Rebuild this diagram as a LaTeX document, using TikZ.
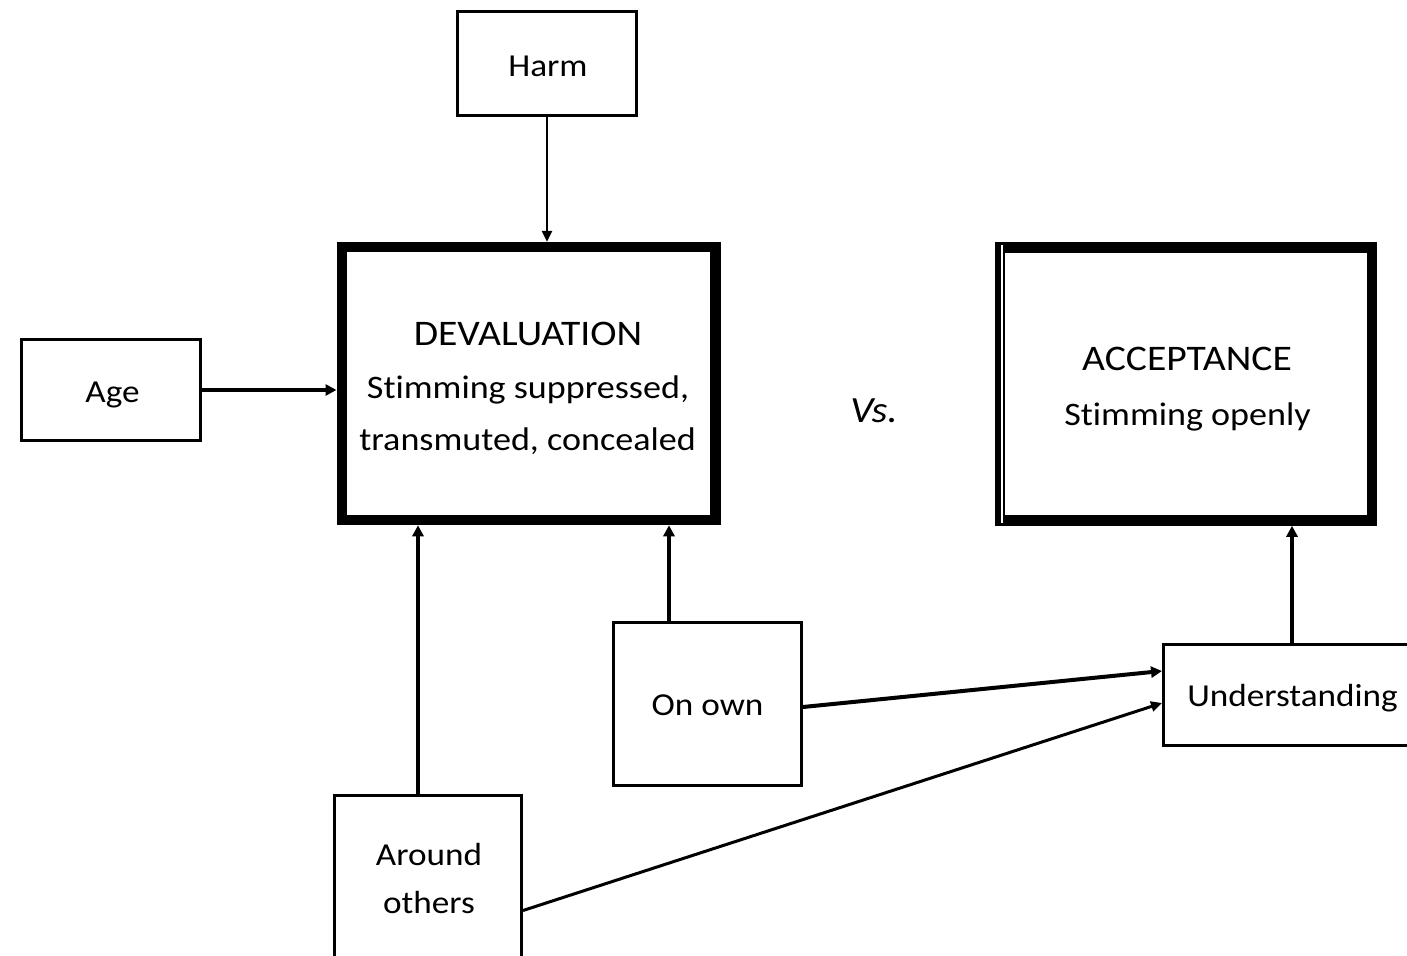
\documentclass[tikz,border=0pt]{standalone}
\usepackage{fontspec}
\setmainfont{Carlito}[Ligatures=NoCommon, FakeStretch=1.1]
\usetikzlibrary{arrows.meta,calc}
\begin{document}
\begin{tikzpicture}[x=1pt,y=-1pt,
  box/.style={draw, line width=3pt, inner sep=0pt},
  bigbox/.style={draw, line width=10.5pt, inner sep=0pt},
  txt/.style={anchor=base, inner sep=0pt, font=\fontsize{32}{40}\selectfont},
  bigtxt/.style={anchor=base, inner sep=0pt, font=\fontsize{32.8}{40}\selectfont},
  titletxt/.style={anchor=base, inner sep=0pt, font=\fontsize{36}{40}\selectfont},
  arr/.style={-{Triangle[length=11pt,width=11pt]}, line width=4pt},
  thinarr/.style={-{Triangle[length=11pt,width=10pt]}, line width=2.5pt}]
\useasboundingbox (0,0) rectangle (1407,955);
\clip (0,0) rectangle (1407,955);
\fill[white] (0,0) rectangle (1407,955);

% boxes
\node[box, minimum width=179pt, minimum height=104pt] (harm) at (547,63.5) {};
\node[box, minimum width=179pt, minimum height=101pt] (age) at (111,390) {};
\node[bigbox, minimum width=373.5pt, minimum height=273pt] (dev) at (528.5,383.5) {};
\node[bigbox, minimum width=372pt, minimum height=273pt] (acc) at (1186,384) {};
\draw[white, line width=1.5pt] ([xshift=7pt,yshift=-3pt]acc.north west) -- ([xshift=7pt,yshift=3pt]acc.south west);
\node[box, minimum width=188pt, minimum height=163pt] (own) at (707.5,704) {};
\node[box, minimum width=187pt, minimum height=170pt] (around) at (428,880.5) {};
\node[box, minimum width=257pt, minimum height=101pt] (und) at (1292,695) {};

% texts
\node[txt] (harmt) at (548,76.7) {Harm};
\node[txt] (aget) at (112.5,402.7) {Age};
\node[titletxt] (devt1) at (528,345) {DEVALUATION};
\node[bigtxt] (devt2) at (528,398) {Stimming suppressed,};
\node[bigtxt] (devt3) at (527.5,450) {transmuted, concealed};
\node[titletxt] (acct1) at (1187,370) {ACCEPTANCE};
\node[bigtxt] (acct2) at (1187.5,425) {Stimming openly};
\node[txt] (ownt) at (707.5,715) {On own};
\node[txt] (aroundt1) at (429,865) {Around};
\node[txt] (aroundt2) at (429,913) {others};
\node[txt] (undt) at (1292.5,706) {Understanding};
\node[anchor=base, inner sep=0pt, font=\fontsize{37}{40}\selectfont\itshape] (vs) at (874,422) {Vs.};

% connectors
\draw[thinarr] (harm.south) -- (harm.south |- dev.north);
\draw[arr] (age.east) -- (age.east -| dev.west);
\draw[arr] ([xshift=-10pt]around.north) -- ([xshift=-10pt]around.north |- dev.south);
\draw[arr] ([xshift=-38.5pt]own.north) -- ([xshift=-38.5pt]own.north |- dev.south);
\draw[arr] (und.north) -- (und.north |- acc.south);
\draw[arr] ([yshift=-3pt]own.east) -- ([yshift=24pt]und.west);
\draw[-{Triangle[length=11pt,width=10pt]}, line width=3pt] ([yshift=-30pt]around.east) -- ([yshift=-8pt]und.west);
\end{tikzpicture}
\end{document}
